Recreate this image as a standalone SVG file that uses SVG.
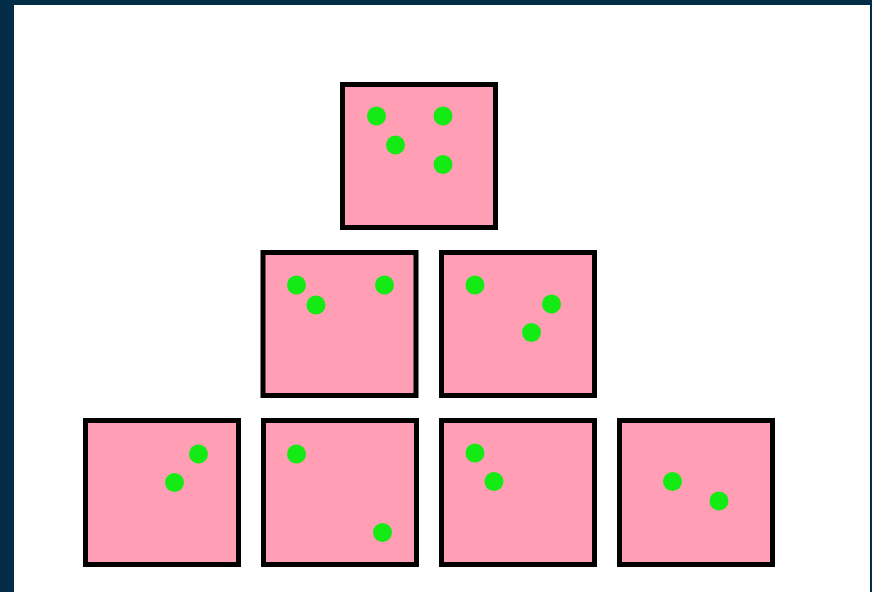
<svg xmlns="http://www.w3.org/2000/svg" width="872" height="592" viewBox="0 0 872 592">
<style>
.box{fill:#ff9eb4;stroke:#000;stroke-width:5}
.dot{fill:#14ea14}
</style>
<rect x="0" y="0" width="872" height="592" fill="#032c47"/>
<rect x="14" y="5" width="856" height="587" fill="#fff"/>
<g id="top">
<rect class="box" x="342.5" y="84.5" width="153" height="143"/>
<circle class="dot" cx="376.5" cy="116" r="9.5"/>
<circle class="dot" cx="443" cy="116" r="9.5"/>
<circle class="dot" cx="395.5" cy="145" r="9.5"/>
<circle class="dot" cx="443" cy="164.5" r="9.5"/>
</g>
<g id="mid1">
<rect class="box" x="263" y="252.5" width="153" height="143"/>
<circle class="dot" cx="296.5" cy="285" r="9.5"/>
<circle class="dot" cx="316" cy="305" r="9.5"/>
<circle class="dot" cx="384.5" cy="285" r="9.5"/>
</g>
<g id="mid2">
<rect class="box" x="441.5" y="252.5" width="153" height="143"/>
<circle class="dot" cx="475" cy="285" r="9.5"/>
<circle class="dot" cx="551.5" cy="304" r="9.5"/>
<circle class="dot" cx="531.5" cy="332.5" r="9.5"/>
</g>
<g id="bot1">
<rect class="box" x="85.5" y="420.5" width="153" height="144"/>
<circle class="dot" cx="198.5" cy="454" r="9.5"/>
<circle class="dot" cx="174.5" cy="482.5" r="9.5"/>
</g>
<g id="bot2">
<rect class="box" x="263.5" y="420.5" width="153" height="144"/>
<circle class="dot" cx="296.5" cy="454" r="9.5"/>
<circle class="dot" cx="382.5" cy="532.5" r="9.5"/>
</g>
<g id="bot3">
<rect class="box" x="441.5" y="420.5" width="153" height="144"/>
<circle class="dot" cx="475" cy="453" r="9.5"/>
<circle class="dot" cx="494" cy="481.5" r="9.5"/>
</g>
<g id="bot4">
<rect class="box" x="619.5" y="420.5" width="153" height="144"/>
<circle class="dot" cx="672.5" cy="481.5" r="9.5"/>
<circle class="dot" cx="719" cy="501" r="9.5"/>
</g>
<g id="connectors"/>
</svg>
